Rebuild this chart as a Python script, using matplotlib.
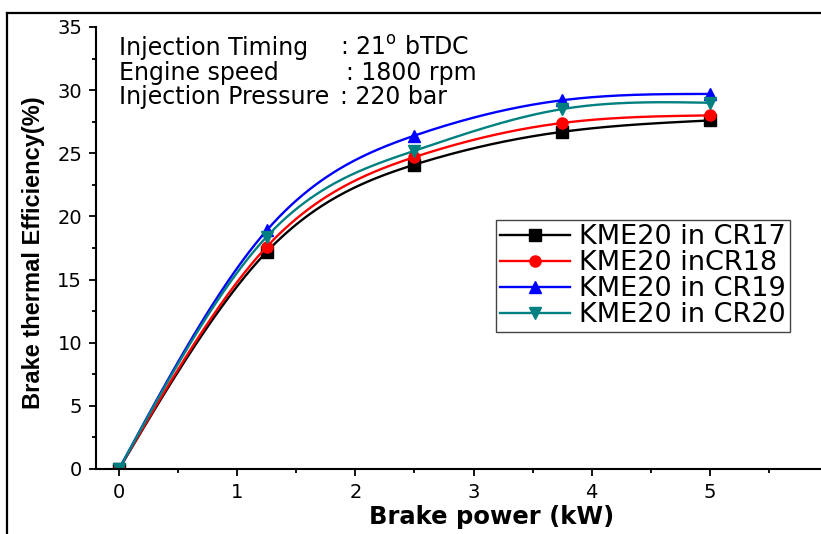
import numpy as np
import matplotlib
matplotlib.use("Agg")
import matplotlib.pyplot as plt
from matplotlib.lines import Line2D

# data
brake_power = [0, 1.25, 2.5, 3.75, 5]
bte_cr17 = [0, 17.2, 24.1, 26.7, 27.6]
bte_cr18 = [0, 17.6, 24.7, 27.4, 28.0]
bte_cr19 = [0, 18.9, 26.4, 29.2, 29.7]
bte_cr20 = [0, 18.4, 25.2, 28.5, 29.0]

labels = ["KME20 in CR17", "KME20 inCR18", "KME20 in CR19", "KME20 in CR20"]
colors = ["black", "red", "blue", "#008080"]
markers = ["s", "o", "^", "v"]
series = [bte_cr17, bte_cr18, bte_cr19, bte_cr20]

info_keys = ["Injection Timing", "Engine speed", "Injection Pressure"]
info_vals = [": 21$^{\\rm o}$ bTDC", ": 1800 rpm", ": 220 bar"]


def natural_spline(x, y, xs):
    # plain natural cubic spline, so the curves look like Origin's spline line
    x = np.asarray(x, float)
    y = np.asarray(y, float)
    n = len(x)
    h = np.diff(x)
    A = np.zeros((n, n))
    b = np.zeros(n)
    A[0, 0] = A[-1, -1] = 1
    for i in range(1, n - 1):
        A[i, i - 1] = h[i - 1]
        A[i, i] = 2 * (h[i - 1] + h[i])
        A[i, i + 1] = h[i]
        b[i] = 6 * ((y[i + 1] - y[i]) / h[i] - (y[i] - y[i - 1]) / h[i - 1])
    M = np.linalg.solve(A, b)
    k = np.clip(np.searchsorted(x, xs) - 1, 0, n - 2)
    t0 = x[k + 1] - xs
    t1 = xs - x[k]
    hk = h[k]
    return (M[k] * t0**3 / (6 * hk) + M[k + 1] * t1**3 / (6 * hk)
            + (y[k] / hk - M[k] * hk / 6) * t0
            + (y[k + 1] / hk - M[k + 1] * hk / 6) * t1)


W, H = 821, 534
fig = plt.figure(figsize=(W / 100, H / 100), dpi=100)
ax = fig.add_axes([96 / W, (H - 469) / H, (W - 96) / W, (469 - 27) / H])

xs = np.linspace(brake_power[0], brake_power[-1], 300)
for vals, c, m, lab in zip(series, colors, markers, labels):
    ax.plot(xs, natural_spline(brake_power, vals, xs), color=c, lw=1.7)
    ax.plot(brake_power, vals, ls="none", marker=m, color=c, ms=8)

handles = [Line2D([], [], color=c, marker=m, lw=1.7, ms=8) for c, m in zip(colors, markers)]

ax.set_xlim(-0.195, 5.94)
ax.set_ylim(0, 35)
ax.set_xticks([0, 1, 2, 3, 4, 5])
ax.set_xticks(np.arange(0.5, 6, 1), minor=True)
ax.set_yticks(np.arange(0, 36, 5))
ax.set_yticks(np.arange(2.5, 35, 5), minor=True)
ax.spines["top"].set_visible(False)
ax.spines["right"].set_visible(False)
for s in ["left", "bottom"]:
    ax.spines[s].set_linewidth(1.5)
ax.tick_params(which="major", direction="out", length=5, width=1.3, labelsize=14, pad=5)
ax.tick_params(which="minor", direction="out", length=3, width=1.3)
for t in ax.get_xticklabels() + ax.get_yticklabels():
    t.set_family("DejaVu Sans")

ax.set_xlabel("Brake power (kW)", fontsize=17.5, fontweight="bold", family="DejaVu Sans")
ax.xaxis.set_label_coords((492 - 96) / 725, -(505 - 469) / 442)
ax.set_ylabel("Brake thermal Efficiency(%)", fontsize=17, fontweight="bold",
              family=["Liberation Sans", "DejaVu Sans"])
ax.yaxis.set_label_coords((45 - 96) / 725, 0.49)

# info block, three lines with the colon parts placed separately
key_y = [48, 73, 97]
val_x = [340, 346, 340]
for k, v, yy, vx in zip(info_keys, info_vals, key_y, val_x):
    fig.text(119 / W, 1 - yy / H, k, fontsize=17, va="center", family="DejaVu Sans")
    fig.text(vx / W, 1 - yy / H, v, fontsize=17, va="center", family="DejaVu Sans")

leg = ax.legend(handles, labels, loc="upper left", bbox_to_anchor=(496 / W, 1 - 220 / H),
                bbox_transform=fig.transFigure, prop={"family": "DejaVu Sans", "size": 19.5},
                handlelength=2.6, handletextpad=0.3, borderpad=0.15, labelspacing=0.0,
                borderaxespad=0, fancybox=False, framealpha=1)
leg.get_frame().set_edgecolor("#444444")
leg.get_frame().set_linewidth(1.0)

# outer frame that the original image has on its top and left
fig.add_artist(Line2D([7 / W, 7 / W], [0, 1 - 13 / H], color="black", lw=1.6,
                      transform=fig.transFigure))
fig.add_artist(Line2D([7 / W, 1], [1 - 13 / H, 1 - 13 / H], color="black", lw=1.6,
                      transform=fig.transFigure))

fig.savefig("out.png", dpi=100)
